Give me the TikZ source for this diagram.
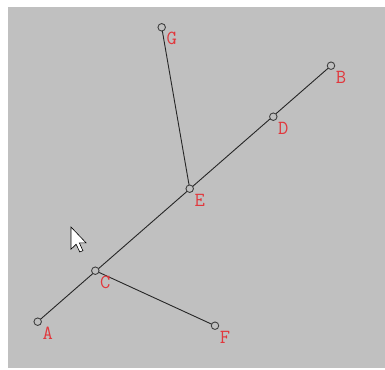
\documentclass[tikz,border=0pt]{standalone}
\begin{document}
\begin{tikzpicture}[x=1pt,y=-1pt,
  pt/.style={circle,draw=black!75,fill=bgray,line width=0.9pt,inner sep=0pt,minimum size=7.5pt},
  lbl/.style={text=lred,font=\ttfamily\fontsize{20}{20}\selectfont,inner sep=0pt,anchor=center},
  seg/.style={draw=black!85,line width=0.9pt}]
\definecolor{bgray}{RGB}{192,192,192}
\definecolor{lred}{RGB}{225,55,60}
\useasboundingbox (0,0) rectangle (385,369);
\fill[white] (0,0) rectangle (385,369);
\fill[bgray] (8,7) rectangle (385,368);
% points
\coordinate (pA) at (37.7,321.7);
\coordinate (pB) at (331,65.7);
\coordinate (pC) at (95.3,270.7);
\coordinate (pD) at (273.3,116.7);
\coordinate (pE) at (189.7,188.7);
\coordinate (pF) at (215,325.7);
\coordinate (pG) at (161.7,27.3);
\draw[seg] (pA) -- (pB);
\draw[seg] (pG) -- (pE);
\draw[seg] (pC) -- (pF);
\foreach \n in {A,B,C,D,E,F,G}{
  \node[pt] (n\n) at (p\n) {};
  \node[lbl] (l\n) at ([xshift=10pt,yshift=-11.5pt]p\n) {\n};
}
% mouse cursor
\begin{scope}[shift={(71,227)},scale=1.35]
\draw[fill=white,draw=black,line width=0.6pt,line join=miter]
  (0,0) -- (0,16.5) -- (3.8,12.8) -- (6.5,18.5) -- (8.8,17.5) -- (6.2,11.8) -- (11.2,11.8) -- cycle;
\end{scope}
\end{tikzpicture}
\end{document}
